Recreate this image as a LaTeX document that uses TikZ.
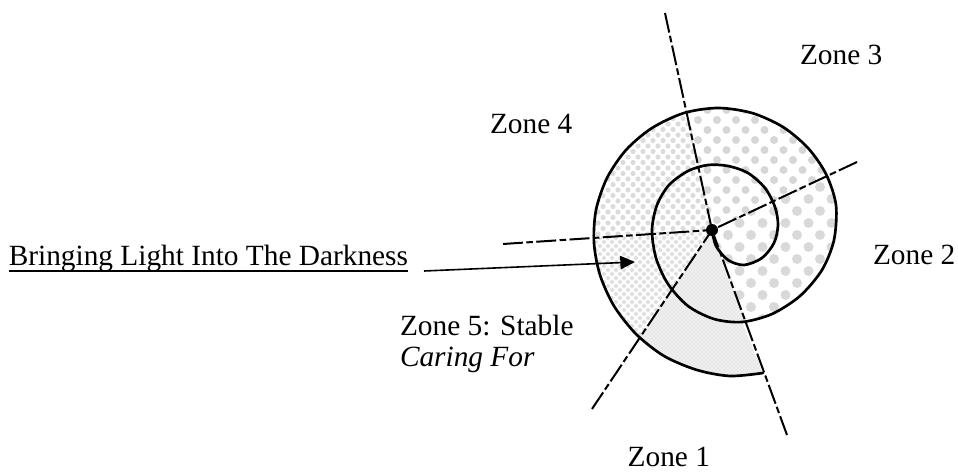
\documentclass[tikz,border=0pt]{standalone}
\usepackage{fontspec}
\setmainfont{Liberation Serif}
\usetikzlibrary{arrows.meta,calc,patterns}
\newcommand\mydots[7]{%
  \pgfmathtruncatemacro\nrows{(#4-#3)/#6}%
  \pgfmathtruncatemacro\ncols{(#2-#1)/#5}%
  \foreach \i in {0,...,\nrows}{%
    \pgfmathsetmacro\off{mod(\i,2)*#5/2}%
    \foreach \j in {0,...,\ncols}{%
      \fill[dotcol] ({#1+\off+\j*#5},{#3+\i*#6}) circle[radius=#7];
    }%
  }%
}
\def\outerpath{plot[smooth,tension=0.5] coordinates {(742,322) (772,314) (800,296) (822,270) (834,240) (836,205) (826,174) (808,148) (783,127) (752,113) (718,108) (684,113) (652,128) (626,150) (607,178) (596,210) (594,243) (600,275) (614,306) (636,334) (664,356) (697,370) (730,376) (763,373)} -- cycle}
\begin{document}
\begin{tikzpicture}[x=0.75pt,y=-0.75pt,
  spiralline/.style={line width=2pt, line join=round, line cap=round},
  zoneline/.style={line width=1.5pt, dash pattern=on 15pt off 2.5pt on 5pt off 2.5pt},
  lbl/.style={font=\fontsize{22}{26}\selectfont, inner sep=0pt, outer sep=0pt},
  arrowline/.style={line width=1.2pt, -{Triangle[length=11pt,width=10pt]}},
  dotcol/.style={fill=gray!32}]
\useasboundingbox (0,0) rectangle (958,474);

\coordinate (c) at (712,230);
\coordinate (eT) at (665,13);
\coordinate (eUR) at (857,162);
\coordinate (eL) at (503,244);
\coordinate (eLL) at (592,409);
\coordinate (eLR) at (787,435);

% zone 3 fill
\begin{scope}
  \clip \outerpath;
  \clip (c) -- ($(c)!4!(eUR)$) -- ($(c)!4!(eT)$) -- cycle;
  \mydots{660}{850}{100}{235}{19}{10}{4}
\end{scope}
% zone 2 fill
\begin{scope}[dotcol/.style={fill=gray!30}]
  \clip \outerpath;
  \clip (c) -- ($(c)!4!(eLR)$) -- ($(c)!4!(eUR)$) -- cycle;
  \mydots{705}{850}{115}{385}{23}{12}{5}
\end{scope}
% zone 1 fill
\begin{scope}
  \clip \outerpath;
  \clip (c) -- ($(c)!4!(eLL)$) -- ($(c)!4!(eLR)$) -- cycle;
  \fill[gray!12] (580,220) rectangle (800,390);
  \fill[pattern=crosshatch dots, pattern color=gray!45] (580,220) rectangle (800,390);
\end{scope}
% zone 5 fill
\begin{scope}[dotcol/.style={fill=gray!26}]
  \clip \outerpath;
  \clip (c) -- ($(c)!4!(eL)$) -- ($(c)!4!(eLL)$) -- cycle;
  \mydots{588}{716}{226}{392}{8}{4}{2}
\end{scope}
% zone 4 fill
\begin{scope}[dotcol/.style={fill=gray!28}]
  \clip \outerpath;
  \clip (c) -- ($(c)!4!(eT)$) -- ($(c)!4!(eL)$) -- cycle;
  \mydots{588}{716}{102}{246}{10}{5.5}{2.6}
\end{scope}

% zone boundary lines
\draw[zoneline] (eT) -- (c);
\draw[zoneline] (eUR) -- (c);
\draw[zoneline] (eL) -- (c);
\draw[zoneline] (eLL) -- (c);
\draw[zoneline] (eLR) -- (c);

% spiral
\draw[spiralline] plot[smooth,tension=0.5] coordinates {(712,230) (716,246) (728,260) (744,265) (762,258) (774,243) (778,225) (775,207) (765,188) (748,173) (728,166) (708,165) (688,171) (669,185) (657,205) (652,230) (656,258) (668,284) (688,306) (714,319) (742,322) (772,314) (800,296) (822,270) (834,240) (836,205) (826,174) (808,148) (783,127) (752,113) (718,108) (684,113) (652,128) (626,150) (607,178) (596,210) (594,243) (600,275) (614,306) (636,334) (664,356) (697,370) (730,376) (763,373)};

\node[circle, fill=black, inner sep=0pt, minimum size=9pt] (ctr) at (c) {};

% labels
\node[lbl, anchor=base east] (bring) at (408,266) {Bringing Light Into The Darkness};
\draw[line width=1.2pt] ($(bring.base west)+(0,5)$) -- ($(bring.base east)+(0,5)$);
\node[lbl, anchor=base west] (z4) at (490,134) {Zone 4};
\node[lbl, anchor=base west] (z3) at (800,65) {Zone 3};
\node[lbl, anchor=base west] (z2) at (873,265) {Zone 2};
\node[lbl, anchor=base west] (z5) at (400,335) {Zone 5: Stable};
\node[lbl, anchor=base west] (z5b) at (400,367) {\itshape Caring For};
\node[lbl, anchor=base east] (z1) at (710,466) {Zone 1};

% arrow
\coordinate (as) at (424,271);
\coordinate (at) at (635,262);
\draw[arrowline] (as) -- (at);
\end{tikzpicture}
\end{document}
